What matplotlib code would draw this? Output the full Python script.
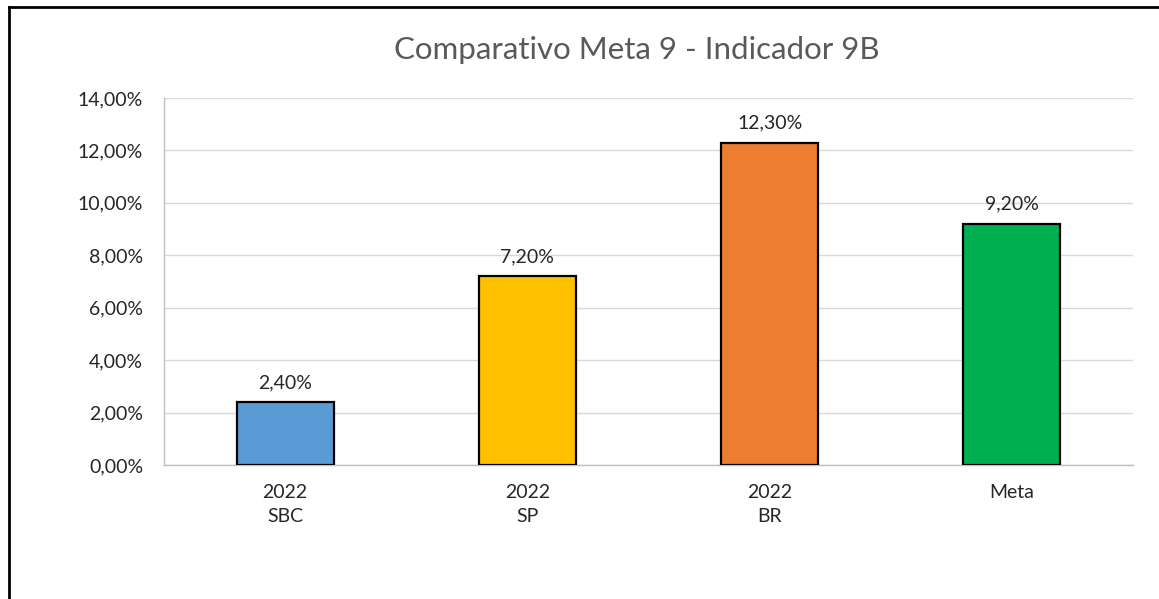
import matplotlib
matplotlib.use("Agg")
import matplotlib.pyplot as plt
from matplotlib.lines import Line2D
from matplotlib.ticker import FuncFormatter

categories = ["2022\nSBC", "2022\nSP", "2022\nBR", "Meta"]
values = [2.40, 7.20, 12.30, 9.20]
colors = ["#5B9BD5", "#FFC000", "#ED7D31", "#00B050"]
yticks = [0, 2, 4, 6, 8, 10, 12, 14]
title = "Comparativo Meta 9 - Indicador 9B"

plt.rcParams['font.family'] = ['Lato', 'DejaVu Sans']

W, H = 1159, 599
fig = plt.figure(figsize=(W / 100, H / 100), dpi=100)
ax = fig.add_axes([164 / W, 1 - 465 / H, (1133 - 164) / W, (465 - 98) / H])

x = list(range(len(categories)))
ax.bar(x, values, width=0.4, color=colors, edgecolor="black", linewidth=1.6, zorder=3)
for xi, v in zip(x, values):
    ax.annotate(f"{v:.2f}%".replace(".", ","), (xi, v), xytext=(0, 8),
                textcoords="offset points", ha="center", va="bottom",
                fontsize=14, color="#262626")

ax.set_xlim(-0.5, len(categories) - 0.5)
ax.set_ylim(0, 14)
ax.set_yticks(yticks)
ax.yaxis.set_major_formatter(FuncFormatter(lambda v, p: f"{v:.2f}%".replace(".", ",")))
ax.set_xticks(x)
ax.set_xticklabels(categories, fontsize=14, color="#262626", linespacing=1.45)
ax.tick_params(axis="y", labelsize=14, labelcolor="#262626", length=0, pad=15)
ax.tick_params(axis="x", length=0, pad=14)
ax.grid(axis="y", color="#D9D9D9", linewidth=1.0, zorder=0)
for s in ["top", "right"]:
    ax.spines[s].set_visible(False)
ax.spines["left"].set_color("#BFBFBF")
ax.spines["bottom"].set_color("#BFBFBF")
ax.spines["left"].set_linewidth(1.0)
ax.spines["bottom"].set_linewidth(1.0)

fig.text(637 / W, 1 - 50 / H, title, ha="center", va="center", fontsize=22.5, color="#595959")

# outer border (left and top)
fig.add_artist(Line2D([8.5 / W, 8.5 / W], [0, 1 - 6.5 / H], color="black", linewidth=2, transform=fig.transFigure))
fig.add_artist(Line2D([8.5 / W, 1], [1 - 6.5 / H, 1 - 6.5 / H], color="black", linewidth=2, transform=fig.transFigure))

fig.savefig("out.png", dpi=100)
